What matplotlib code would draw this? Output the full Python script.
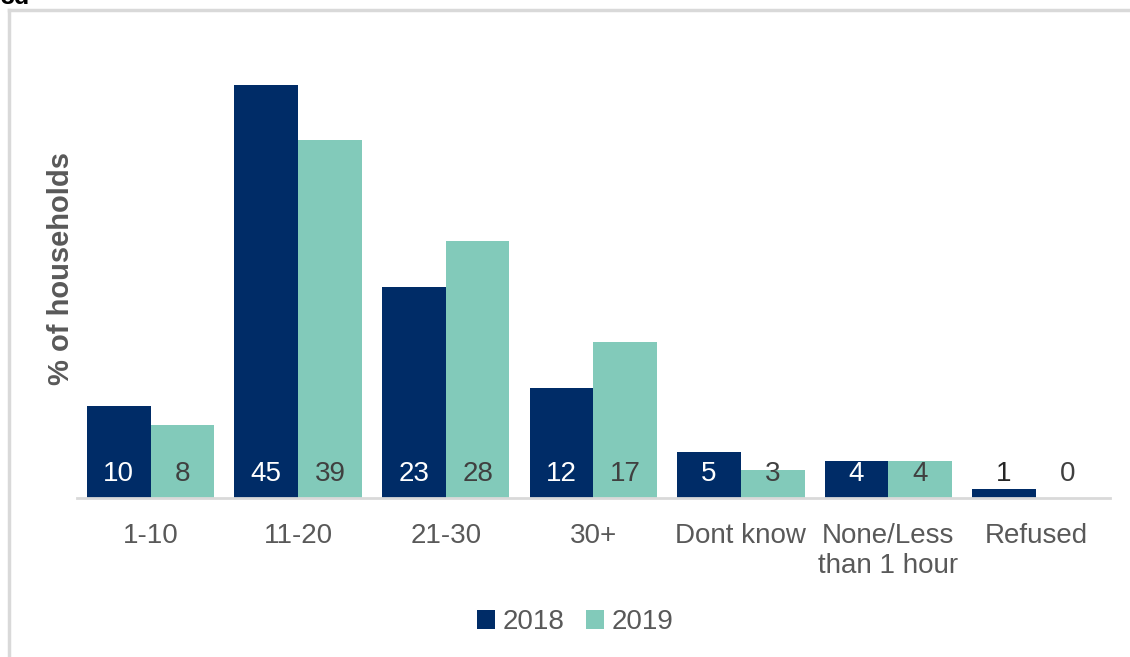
import numpy as np
import matplotlib
matplotlib.use("Agg")
import matplotlib.pyplot as plt
from matplotlib.lines import Line2D

# data
categories = ["1-10", "11-20", "21-30", "30+", "Dont know",
              "None/Less\nthan 1 hour", "Refused"]
years = ["2018", "2019"]
values_2018 = [10, 45, 23, 12, 5, 4, 1]
values_2019 = [8, 39, 28, 17, 3, 4, 0]

navy = "#002C67"
teal = "#82CABA"
grey_text = "#595959"
frame_grey = "#D9D9D9"

plt.rcParams["font.family"] = ["Liberation Sans", "DejaVu Sans"]

fig = plt.figure(figsize=(11.3, 6.57), dpi=100)
ax = fig.add_axes([0.068, 0.242, 0.914, 0.699])

x = np.arange(len(categories))
width = 0.432
b1 = ax.bar(x - width / 2, values_2018, width, color=navy, label=years[0])
b2 = ax.bar(x + width / 2, values_2019, width, color=teal, label=years[1])

# value labels sit at a fixed height near the baseline
label_y = 2.6
for xi, v in zip(x, values_2018):
    col = "white" if v >= 4 else "#262626"
    ax.text(xi - width / 2, label_y, str(v), ha="center", va="center",
            fontsize=20, color=col)
for xi, v in zip(x, values_2019):
    ax.text(xi + width / 2, label_y, str(v), ha="center", va="center",
            fontsize=20, color="#404040")

ax.set_xlim(-0.5, len(categories) - 0.5)
ax.set_ylim(0, 50)
ax.set_xticks(x)
ax.set_xticklabels(categories, fontsize=20, color=grey_text)
ax.tick_params(axis="x", length=0, pad=18)
ax.set_yticks([])
for side in ["top", "right", "left"]:
    ax.spines[side].set_visible(False)
ax.spines["bottom"].set_color(frame_grey)
ax.spines["bottom"].set_linewidth(2)

fig.text(0.054, 0.592, "% of households", rotation=90, ha="center",
         va="center", fontsize=21, fontweight="bold", color=grey_text)

fig.legend(handles=[b1, b2], loc="center", bbox_to_anchor=(0.509, 0.053),
           ncol=2, frameon=False, fontsize=20, handlelength=0.65,
           handleheight=0.65, handletextpad=0.25, columnspacing=0.8,
           labelcolor=grey_text)

# outer frame: top and left edges only, and the clipped heading
fig.add_artist(Line2D([0.008, 1.0], [1 - 10 / 657, 1 - 10 / 657],
                      color=frame_grey, lw=2.5, transform=fig.transFigure))
fig.add_artist(Line2D([0.008, 0.008], [0.0, 1 - 10 / 657],
                      color=frame_grey, lw=2.5, transform=fig.transFigure))
fig.text(0.0, 1 - 4 / 657, "3d", ha="left", va="baseline",
         fontsize=18, fontweight="bold", color="black")

fig.savefig("out.png", dpi=100)
